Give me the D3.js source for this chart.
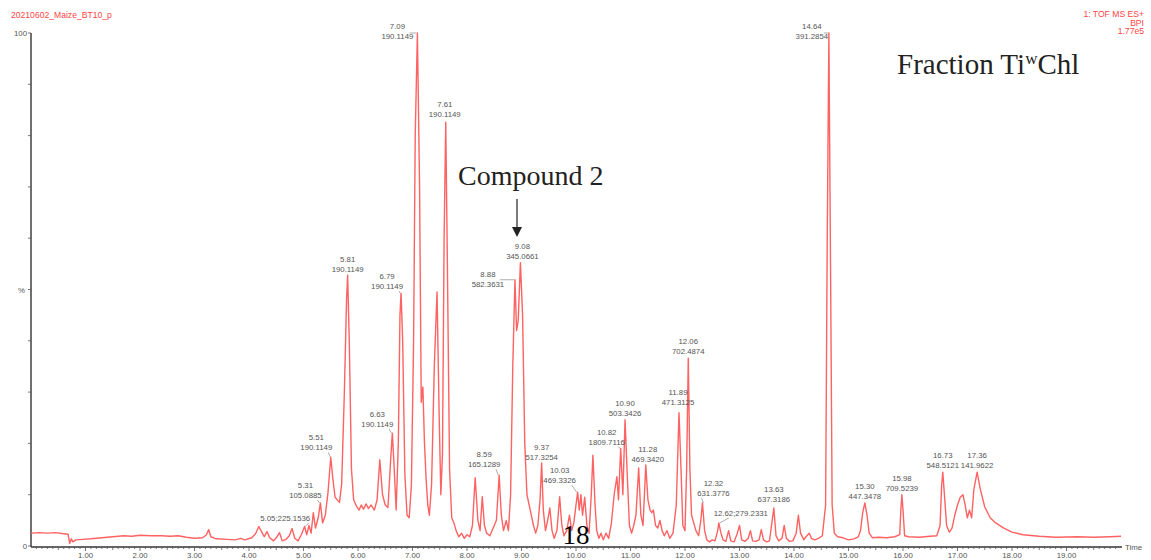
<!DOCTYPE html>
<html>
<head>
<meta charset="utf-8">
<script src="https://cdn.jsdelivr.net/npm/d3@7"></script>
<style>
  body { margin: 0; background: #fff; }
  svg { display: block; }
  .lbl { font-family: Arial, "Liberation Sans", sans-serif; font-size: 7.8px; fill: #555; }
  .serif { font-family: "Liberation Serif", "DejaVu Serif", serif; fill: #222; }
</style>
</head>
<body>
<svg width="1151" height="560"></svg>
<script>
// ---- data ----
// chromatogram trace: [time (min), relative intensity (%)]
const trace = [
  [0.00,2.5],[0.15,2.6],[0.3,2.5],[0.45,2.6],[0.6,2.4],[0.68,2.3],[0.71,0.5],[0.74,1.4],[0.77,0.8],[0.82,1.2],
  [0.95,1.3],[1.1,1.4],[1.3,1.6],[1.5,1.8],[1.7,2.0],[1.85,1.9],[2.0,2.1],[2.2,2.0],[2.4,2.0],[2.55,1.9],
  [2.7,2.0],[2.85,1.7],[3.0,1.5],[3.15,1.6],[3.22,2.2],[3.26,3.2],[3.3,1.8],[3.4,1.4],[3.6,1.3],[3.75,1.2],
  [3.85,1.5],[3.92,1.2],[4.05,1.6],[4.12,2.4],[4.18,3.8],[4.23,2.8],[4.28,1.8],[4.33,2.8],[4.38,1.6],[4.45,1.0],
  [4.5,1.6],[4.56,2.6],[4.61,1.0],[4.68,1.3],[4.74,2.0],[4.79,3.4],[4.84,1.5],[4.9,1.0],[4.96,2.2],[5.02,3.8],
  [5.06,2.2],[5.1,4.0],[5.14,2.5],[5.18,6.5],[5.22,3.5],[5.27,5.5],[5.31,8.4],[5.35,4.5],[5.4,6.0],[5.45,10.5],
  [5.5,17.3],[5.54,13],[5.58,9.5],[5.62,9.0],[5.66,8.5],[5.7,12],[5.75,30],[5.79,48],[5.81,52.8],[5.84,40],
  [5.88,15],[5.92,9],[5.97,7.8],[6.02,7.0],[6.06,8.0],[6.1,7.2],[6.15,8.2],[6.19,7.3],[6.24,8.0],[6.3,7.0],
  [6.35,9.0],[6.40,16.8],[6.45,10],[6.5,8.0],[6.55,7.5],[6.6,17],[6.63,22],[6.66,16],[6.70,7.0],[6.74,20],
  [6.77,45],[6.79,49.3],[6.82,40],[6.86,14],[6.90,6.0],[6.94,5.5],[6.98,12],[7.02,40],[7.05,80],[7.09,100],
  [7.13,70],[7.16,28],[7.19,31],[7.22,20],[7.25,13],[7.28,8],[7.31,6],[7.35,12],[7.40,35],[7.45,49.5],
  [7.49,25],[7.52,10],[7.55,18],[7.58,60],[7.61,82.6],[7.64,55],[7.68,15],[7.72,5.5],[7.76,4.5],[7.8,3.0],
  [7.85,1.8],[7.9,2.5],[7.95,1.5],[8.0,2.2],[8.05,1.8],[8.1,4],[8.15,13.3],[8.2,5],[8.24,3],[8.28,9.6],
  [8.32,4],[8.36,2.5],[8.42,2.0],[8.48,3.5],[8.54,5.0],[8.59,13.8],[8.63,6],[8.67,3],[8.72,5],[8.76,3],
  [8.80,10],[8.84,35],[8.88,51.9],[8.91,42],[8.94,44],[8.98,55.2],[9.02,45],[9.06,20],[9.1,10],[9.14,8],
  [9.18,6],[9.22,4],[9.26,2.5],[9.30,4],[9.34,9],[9.37,16.2],[9.40,7],[9.44,3],[9.48,5],[9.52,7.4],
  [9.56,3],[9.6,1.5],[9.65,3],[9.7,9.6],[9.74,4],[9.78,2],[9.83,3],[9.88,6],[9.92,3],[9.96,4.5],
  [10.0,8],[10.03,10.5],[10.06,7],[10.09,10],[10.12,6],[10.16,9.5],[10.2,4],[10.24,2.5],[10.28,10],[10.31,17.7],
  [10.35,8],[10.38,3],[10.42,1.5],[10.46,2.5],[10.5,1.2],[10.55,2.5],[10.6,1.5],[10.65,4.5],[10.7,10],[10.75,13.5],
  [10.78,9],[10.82,19],[10.86,10],[10.9,24.6],[10.94,14],[10.98,4],[11.02,2.5],[11.06,4],[11.1,6],[11.15,15.2],
  [11.19,6],[11.23,4],[11.28,15.8],[11.32,9],[11.36,7],[11.39,6.5],[11.42,7],[11.46,4],[11.5,3.5],[11.54,5],
  [11.58,3],[11.62,2],[11.67,3],[11.72,1.5],[11.78,2.5],[11.84,8],[11.89,26],[11.93,14],[11.96,4],[12.0,3],
  [12.03,15],[12.06,36.6],[12.09,15],[12.12,6],[12.16,4.5],[12.2,3],[12.25,2],[12.29,5],[12.32,8.4],[12.36,3],
  [12.4,1.2],[12.45,0.8],[12.5,1.2],[12.55,1.0],[12.6,3],[12.62,4.5],[12.66,2.5],[12.7,1.2],[12.75,0.9],[12.8,3],
  [12.84,1.0],[12.9,0.8],[12.96,2.5],[13.0,4.0],[13.04,1.2],[13.1,0.9],[13.16,1.5],[13.2,3.0],[13.24,1.0],[13.3,0.9],
  [13.36,1.2],[13.4,3.2],[13.44,1.2],[13.5,0.8],[13.55,1.0],[13.6,5],[13.63,7.4],[13.67,2],[13.72,1.0],[13.78,1.5],
  [13.82,4.0],[13.86,1.5],[13.92,0.9],[13.98,1.0],[14.04,2.5],[14.08,6.0],[14.12,2.5],[14.18,1.2],[14.22,1.8],[14.28,2.5],
  [14.32,1.5],[14.38,1.2],[14.45,1.5],[14.52,2.0],[14.58,8],[14.61,60],[14.64,100],[14.67,55],[14.7,8],[14.74,2.5],
  [14.8,1.8],[14.9,1.6],[15.0,1.2],[15.1,1.4],[15.18,1.8],[15.22,3],[15.26,6.5],[15.30,8.4],[15.34,6],[15.38,2.5],
  [15.44,1.6],[15.55,1.7],[15.7,1.6],[15.85,1.8],[15.94,2.2],[15.96,7],[15.98,10],[16.0,7],[16.03,2.0],[16.1,1.8],
  [16.3,1.7],[16.5,1.9],[16.62,2.0],[16.68,4],[16.71,12],[16.73,14.4],[16.76,10],[16.8,4],[16.85,2.7],[16.9,3.5],
  [16.95,6],[17.0,8],[17.05,9.5],[17.1,10],[17.14,8],[17.18,5.5],[17.22,7],[17.26,5.5],[17.3,11],[17.36,14.4],
  [17.42,11],[17.5,7.6],[17.6,5.5],[17.7,4.5],[17.85,3.5],[18.0,2.7],[18.2,2.2],[18.5,1.9],[18.8,1.7],[19.2,1.8],
  [19.5,1.7],[19.8,1.8],[20.0,1.9]
];

// labelled peaks: retention time (position), label text, m/z, apex intensity (%)
const peakTimes   = [5.05, 5.31, 5.51, 5.81, 6.63, 6.79, 7.09, 7.61, 8.59, 8.88, 8.98, 9.37, 10.03,
                     10.82, 10.90, 11.28, 11.89, 12.06, 12.32, 12.62, 13.63, 14.64, 15.30, 15.98, 16.73, 17.36];
const peakRtText  = ["5.05", "5.31", "5.51", "5.81", "6.63", "6.79", "7.09", "7.61", "8.59", "8.88", "9.08", "9.37", "10.03",
                     "10.82", "10.90", "11.28", "11.89", "12.06", "12.32", "12.62", "13.63", "14.64", "15.30", "15.98", "16.73", "17.36"];
const peakMz      = ["225.1536", "105.0885", "190.1149", "190.1149", "190.1149", "190.1149", "190.1149", "190.1149",
                     "165.1289", "582.3631", "345.0661", "517.3254", "469.3326", "1809.7116", "503.3426", "469.3420",
                     "471.3125", "702.4874", "631.3776", "279.2331", "637.3186", "391.2854", "447.3478", "709.5239",
                     "548.5121", "141.9622"];
const peakHeights = [3.8, 8.4, 17.3, 52.8, 22, 49.3, 100, 82.6, 13.8, 51.9, 55.2, 16.2, 10.5,
                     19, 24.6, 15.8, 26, 36.6, 8.4, 4.5, 7.4, 100, 8.4, 10, 14.4, 14.4];
const singleLine  = ["5.05", "12.62"];

const xTickValues = d3.range(1, 20);

// label placement relative to apex (px): [dx, dy of last text line]
const labelOffset = {
  "5.05": [-21, -6], "5.31": [-15, -5], "5.51": [-15, -7], "5.81": [0, -3], "6.63": [-15, -6],
  "6.79": [-14, -4], "7.09": [-20, 6], "7.61": [-1, -5], "8.59": [-15, -8], "8.88": [-27, 7],
  "9.08": [2, -4], "9.37": [0, -3], "10.03": [-18, -9], "10.82": [-14, -4], "10.90": [0, -4],
  "11.28": [2, -3], "11.89": [-1, -8], "12.06": [0, -4], "12.32": [11, -7], "12.62": [22, -7],
  "13.63": [0, -6], "14.64": [-17, 6], "15.30": [0, -4], "15.98": [0, -4], "16.73": [0, -4], "17.36": [0, -4]
};

const svg = d3.select("svg");
svg.append("rect").attr("width", 1151).attr("height", 560).attr("fill", "#fff");

const x = d3.scaleLinear().domain([0, 20]).range([31, 1121]);
const y = d3.scaleLinear().domain([0, 100]).range([546, 33]);

// header texts
svg.append("text").attr("x", 11).attr("y", 18).attr("fill", "#ff4545")
  .style("font-family", "Arial, sans-serif").style("font-size", "8.6px")
  .text("20210602_Maize_BT10_p");
const hdr = ["1: TOF MS ES+", "BPI", "1.77e5"];
svg.selectAll(".hdr").data(hdr).enter().append("text")
  .attr("x", 1144).attr("y", (d, i) => 17 + i * 8.5)
  .attr("text-anchor", "end").attr("fill", "#ff4545")
  .style("font-family", "Arial, sans-serif").style("font-size", "8.6px")
  .text(d => d);

// x axis: major every 1, minor every 0.1
const xAxisG = svg.append("g").attr("transform", "translate(0,547)");
xAxisG.append("line").attr("x1", 31).attr("x2", 1122).attr("stroke", "#333").attr("stroke-width", 1.4);
xAxisG.selectAll(".minor").data(d3.range(1, 200).map(i => i / 10)).enter().append("line")
  .attr("x1", d => x(d)).attr("x2", d => x(d))
  .attr("y1", 0).attr("y2", (d, i) => ((i + 1) % 10 === 0 ? 4 : ((i + 1) % 5 === 0 ? 3 : 2)))
  .attr("stroke", "#555").attr("stroke-width", 0.8);
xAxisG.selectAll(".tl").data(xTickValues).enter().append("text")
  .attr("class", "lbl").attr("x", d => x(d)).attr("y", 11)
  .attr("text-anchor", "middle").text(d => d.toFixed(2));
xAxisG.append("text").attr("class", "lbl").attr("x", 1125).attr("y", 3).text("Time");

// y axis
const yAxisG = svg.append("g");
yAxisG.append("line").attr("x1", 31).attr("x2", 31).attr("y1", 33).attr("y2", 547)
  .attr("stroke", "#333").attr("stroke-width", 1.4);
yAxisG.selectAll(".yt").data(d3.range(0, 101, 10)).enter().append("line")
  .attr("x1", 28).attr("x2", 31).attr("y1", d => y(d)).attr("y2", d => y(d))
  .attr("stroke", "#555").attr("stroke-width", 0.8);
yAxisG.append("text").attr("class", "lbl").attr("x", 27).attr("y", y(100) + 3).attr("text-anchor", "end").text("100");
yAxisG.append("text").attr("class", "lbl").attr("x", 25).attr("y", y(50) + 3).attr("text-anchor", "end").text("%");
yAxisG.append("text").attr("class", "lbl").attr("x", 27).attr("y", 549).attr("text-anchor", "end").text("0");

// chromatogram line
const line = d3.line().x(d => x(d[0])).y(d => y(d[1]));
svg.append("path").datum(trace)
  .attr("d", line)
  .attr("fill", "none")
  .attr("stroke", "#ff6262")
  .attr("stroke-width", 1.4)
  .attr("stroke-linejoin", "round");

// peak labels
const peaks = peakTimes.map((t, i) => ({ t, rt: peakRtText[i], mz: peakMz[i], h: peakHeights[i] }));
const pl = svg.selectAll(".pk").data(peaks).enter().append("g");
pl.each(function (d) {
  const g = d3.select(this);
  const px = x(d.t), py = y(d.h);
  const [dx, dy] = labelOffset[d.rt];
  const lx = px + dx, ly = py + dy;
  if (singleLine.includes(d.rt)) {
    g.append("text").attr("class", "lbl").attr("x", lx).attr("y", ly)
      .attr("text-anchor", "middle").text(d.rt + ";" + d.mz);
  } else {
    g.append("text").attr("class", "lbl").attr("x", lx).attr("y", ly - 10)
      .attr("text-anchor", "middle").text(d.rt);
    g.append("text").attr("class", "lbl").attr("x", lx).attr("y", ly)
      .attr("text-anchor", "middle").text(d.mz);
  }
  if (Math.abs(dx) > 5) {
    const ex = dx < 0 ? lx + (singleLine.includes(d.rt) ? 24 : 12) : lx - 12;
    const ey = dy > 0 ? py : ly + 2;
    g.append("line").attr("x1", ex).attr("y1", ey).attr("x2", px - (dx < 0 ? 1 : -1)).attr("y2", py)
      .attr("stroke", "#777").attr("stroke-width", 0.6);
  }
});

// annotations
svg.append("text").attr("class", "serif").attr("x", 897).attr("y", 74)
  .style("font-size", "29px")
  .html('Fraction Ti<tspan dy="-10" font-size="17px">w</tspan><tspan dy="10">Chl</tspan>');
svg.append("text").attr("class", "serif").attr("x", 458).attr("y", 185)
  .style("font-size", "28px").text("Compound 2");
svg.append("line").attr("x1", 517).attr("x2", 517).attr("y1", 199).attr("y2", 228)
  .attr("stroke", "#222").attr("stroke-width", 1.2);
svg.append("path").attr("d", "M512,227 L522,227 L517,237 Z").attr("fill", "#222");
svg.append("text").attr("class", "serif").attr("x", 576).attr("y", 544)
  .attr("text-anchor", "middle").style("font-size", "27px").style("fill", "#000").text("18");
</script>
</body>
</html>
